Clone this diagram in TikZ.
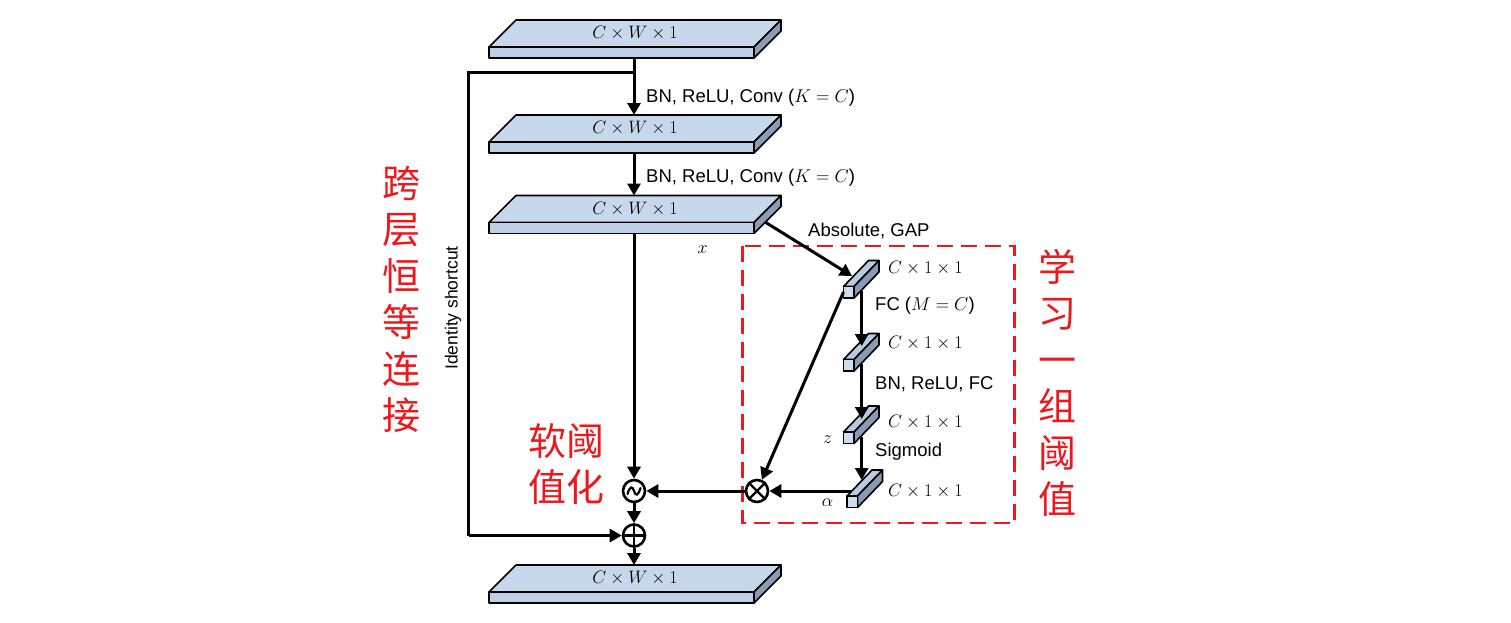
\RequirePackage{fix-cm}
\documentclass[tikz,border=0pt]{standalone}
\usepackage{fontspec}
\setmainfont{Liberation Sans}
\newfontfamily\cjk{Noto Sans CJK SC}
\usetikzlibrary{arrows.meta,calc}
\definecolor{slabtop}{RGB}{200,216,236}
\definecolor{slabfront}{RGB}{190,208,230}
\definecolor{slabside}{RGB}{140,156,178}
\definecolor{blktop}{RGB}{185,202,225}
\definecolor{blkfront}{RGB}{205,220,238}
\definecolor{blkside}{RGB}{138,154,178}
\definecolor{cnred}{RGB}{235,25,30}
\tikzset{
  slabedge/.style={draw=black, line width=1.6pt, line join=round},
  dimtext/.style={font=\fontsize{18}{22}\selectfont, inner sep=0pt},
  lab/.style={font=\fontsize{18.5}{22}\selectfont, inner sep=0pt, anchor=west},
  conn/.style={line width=3.6pt},
  arr/.style={line width=3pt, -{Triangle[width=13pt,length=12pt]}},
  sarr/.style={line width=3.6pt, -{Triangle[width=13pt,length=12pt]}},
  opnode/.style={circle, draw=black, line width=2.6pt, minimum size=22pt, inner sep=0pt},
  cntext/.style={font=\cjk\fontsize{38}{46.5}\selectfont, text=cnred, align=center, inner sep=0pt},
  redbox/.style={draw=cnred, line width=2.5pt, dash pattern=on 16pt off 8pt},
}
\newcommand\myslab[2]{%
  \filldraw[slabedge, fill=slabtop] (489,#2) -- (516,#2-27) -- (781,#2-27) -- (754,#2) -- cycle;
  \filldraw[slabedge, fill=slabside] (754,#2) -- (781,#2-27) -- (781,#2-16) -- (754,#2+11) -- cycle;
  \filldraw[slabedge, fill=slabfront] (489,#2) rectangle (754,#2+11);
  \node[dimtext] (#1) at (635,#2-13.5) {$C\times W\times 1$};
  \coordinate (#1-in) at (634,#2-27);
  \coordinate (#1-out) at (634,#2+11);
}
\newcommand\myblock[3]{%
  \filldraw[slabedge, fill=blktop] (#2,#3) -- (#2+25,#3-26) -- (#2+35.5,#3-26) -- (#2+10.5,#3) -- cycle;
  \filldraw[slabedge, fill=blkside] (#2+10.5,#3) -- (#2+35.5,#3-26) -- (#2+35.5,#3-14.5) -- (#2+10.5,#3+11.5) -- cycle;
  \filldraw[slabedge, fill=blkfront] (#2,#3) rectangle (#2+10.5,#3+11.5);
  \coordinate (#1) at (#2+5,#3+6);
}
\begin{document}
\begin{tikzpicture}[x=1pt,y=-1pt]
\useasboundingbox (0,0) rectangle (1511,622);

% slabs
\myslab{s1}{47}
\myslab{s2}{142}
\myslab{s3}{222.5}
\myslab{s4}{592}

% small blocks
\myblock{b1}{843.5}{286.5}
\myblock{b2}{843.5}{359.5}
\myblock{b3}{843.5}{432}
\myblock{b4}{847}{496}

% red dashed box
\draw[redbox] (742.5,246) rectangle (1014.5,523);

% operator nodes
\node[opnode] (st) at (634,491) {};
\node[opnode] (pl) at (634,535.5) {};
\node[opnode] (ot) at (757,491) {};
\draw[line width=2.2pt] (pl.north) -- (pl.south) (pl.west) -- (pl.east);
\draw[line width=2.2pt] (ot.north east) -- (ot.south west) (ot.north west) -- (ot.south east);
\draw[line width=2.2pt, line cap=round] (627.5,494) .. controls (630,485.5) and (632.5,486) .. (634,491) .. controls (635.5,496) and (638,496.5) .. (640.5,488);

% helper coordinates
\coordinate (br) at (634,72.5);
\coordinate (sc1) at (468.5,72.5);
\coordinate (sc2) at (468.5,535.5);
\coordinate (s3side) at (765,222);
\coordinate (b1top) at (852,276);
\coordinate (b1out) at (861.7,291);
\coordinate (b2in) at (861.7,346);
\coordinate (b2out) at (861.7,364);
\coordinate (b3in) at (861.7,419);
\coordinate (b3out) at (861.7,436.5);
\coordinate (b4in) at (861.7,480);
\coordinate (b1fl) at (843.5,292);
\coordinate (b4fl) at (851,491);

% connectors
\draw[arr] (s1-out) -- (s2-in);
\draw[arr] (s2-out) -- (s3-in);
\draw[conn, line join=miter] (br) -- (sc1) -- (sc2);
\draw[sarr] (sc2) -- (pl.west);
\draw[arr] (s3-out) -- (st.north);
\draw[arr] (st.south) -- (pl.north);
\draw[arr] (pl.south) -- (s4-in);
\draw[arr] (s3side) -- (b1top);
\draw[arr] (b1out) -- (b2in);
\draw[arr] (b2out) -- (b3in);
\draw[arr] (b3out) -- (b4in);
\draw[arr] (b1fl) -- (ot);
\draw[arr] (b4fl) -- (ot.east);
\draw[arr] (ot.west) -- (st.east);

% labels
\node[lab] (l1) at (646,98) {BN, ReLU, Conv ($K=C$)};
\node[lab] (l2) at (646,178) {BN, ReLU, Conv ($K=C$)};
\node[lab] (l3) at (808,231) {Absolute, GAP};
\node[lab] (l4) at (875,306) {FC ($M=C$)};
\node[lab] (l5) at (875,384) {BN, ReLU, FC};
\node[lab] (l6) at (875,452) {Sigmoid};
\node[dimtext, anchor=west] (d1) at (888,268.5) {$C\times 1\times 1$};
\node[dimtext, anchor=west] (d2) at (888,343) {$C\times 1\times 1$};
\node[dimtext, anchor=west] (d3) at (888,422.5) {$C\times 1\times 1$};
\node[dimtext, anchor=west] (d4) at (888,491.5) {$C\times 1\times 1$};
\node[dimtext] (vx) at (702.5,250) {$x$};
\node[dimtext] (vz) at (827.5,440) {$z$};
\node[dimtext] (va) at (827.5,503) {$\alpha$};
\node[font=\fontsize{17.5}{20}\selectfont, inner sep=0pt, rotate=90] (id) at (453,308) {Identity shortcut};

% Chinese labels
\node[cntext] (cn1) at (401.5,299.5) {跨\\层\\恒\\等\\连\\接};
\node[cntext] (cn2) at (1057.5,383) {学\\习\\一\\组\\阈\\值};
\node[cntext] (cn3) at (566.7,464) {软阈\\值化};
\end{tikzpicture}
\end{document}
